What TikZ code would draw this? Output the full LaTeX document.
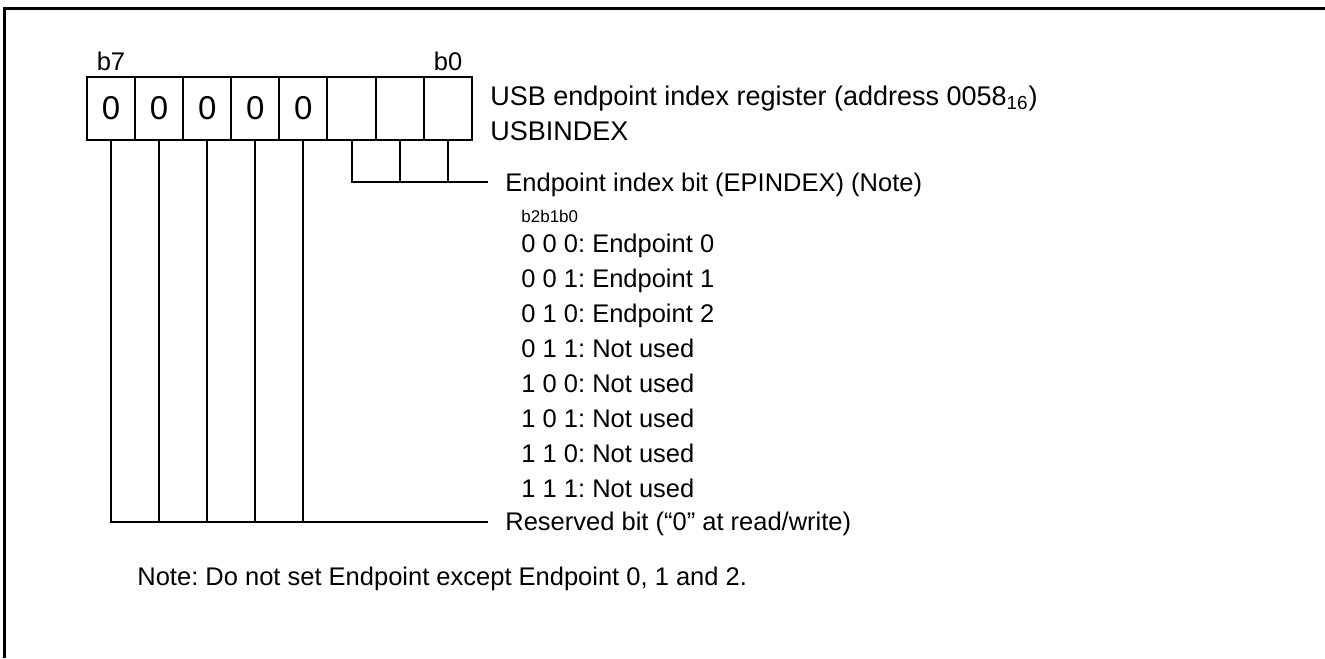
\documentclass[tikz,border=0pt]{standalone}
\usepackage{fontspec}
\setmainfont{Liberation Sans}
\usetikzlibrary{positioning}
\frenchspacing

\begin{document}
\begin{tikzpicture}[
    x=0.5pt, y=-0.5pt,
    bitbox/.style={draw, line width=1pt, minimum width=24.05pt, minimum height=31.5pt, inner sep=0pt, outer sep=0pt, font=\fontsize{16.5}{18}\selectfont},
    txt/.style={anchor=base west, inner sep=0pt, font=\fontsize{12.75}{15}\selectfont},
    bigtxt/.style={txt, font=\fontsize{13.5}{16}\selectfont},
    small/.style={anchor=base west, inner sep=0pt, font=\fontsize{8.5}{10}\selectfont},
    link/.style={line width=1pt}
]
\useasboundingbox (0,0) rectangle (1325,658);

% frame
\draw[line width=1.5pt] (4,658) -- (4,9) -- (1325,9);

% register bits
\foreach \i/\v in {7/0,6/0,5/0,4/0,3/0,2/{},1/{},0/{}}
    \node[bitbox] (bit\i) at ({111+(7-\i)*48.1},108.5) {\v};
\node[txt, anchor=base] (lb7) at (111,70) {b7};
\node[txt, anchor=base] (lb0) at (448,70) {b0};

% register name
\node[bigtxt] (title) at (490,105) {USB endpoint index register (address 0058\textsubscript{16})};
\node[bigtxt] (name) at (490,140) {USBINDEX};

% endpoint index bits
\coordinate (epend) at (488,182);
\draw[link] (bit2.south) |- (epend);
\draw[link] (bit1.south) -- (bit1.south |- epend);
\draw[link] (bit0.south) -- (bit0.south |- epend);
\node[txt] (eptxt) at (505,191) {Endpoint index bit (EPINDEX) (Note)};
\node[small] (bhead) at (521,222) {b2b1b0};
\foreach \c/\t [count=\k from 0] in {0 0 0/Endpoint 0, 0 0 1/Endpoint 1, 0 1 0/Endpoint 2, 0 1 1/Not used, 1 0 0/Not used, 1 0 1/Not used, 1 1 0/Not used, 1 1 1/Not used}
    \node[txt] (val\k) at (521,{252+35*\k}) {\c: \t};

% reserved bits
\coordinate (rsvend) at (488,521.7);
\draw[link] (bit7.south) |- (rsvend);
\foreach \i in {6,5,4,3}
    \draw[link] (bit\i.south) -- (bit\i.south |- rsvend);
\node[txt] (rsvtxt) at (505,530.5) {Reserved bit (“0” at read/write)};

% note
\node[txt] (note) at (137,585) {Note: Do not set Endpoint except Endpoint 0, 1 and 2.};
\end{tikzpicture}
\end{document}
